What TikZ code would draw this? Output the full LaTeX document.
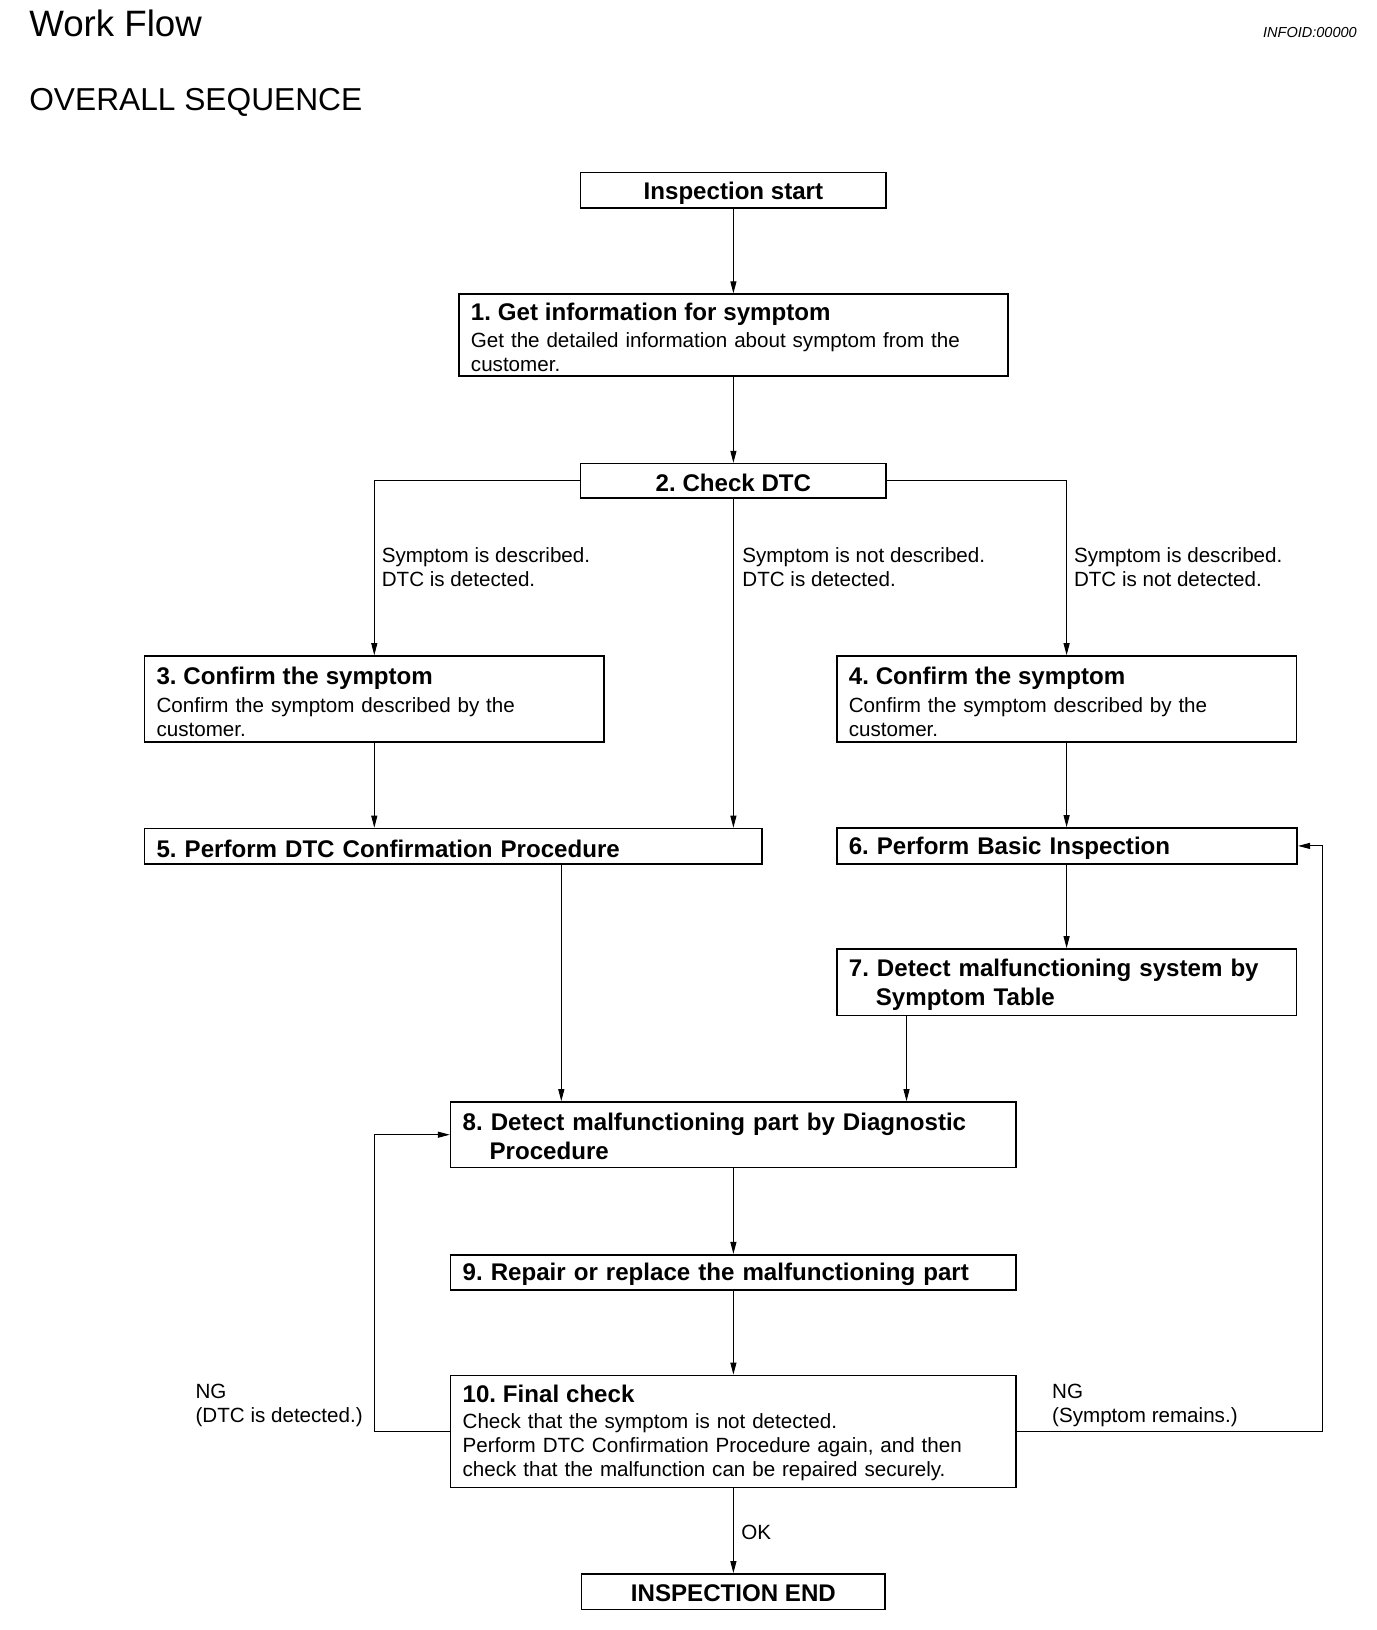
\documentclass[tikz,border=0pt]{standalone}
\usepackage{fontspec}
\setmainfont{Liberation Sans}
\usetikzlibrary{arrows.meta,calc}
\newcommand\ttl{\fontsize{24.1}{29}\selectfont\bfseries}
\newcommand\bdy{\fontsize{20.6}{24}\selectfont\mdseries}
\begin{document}
\frenchspacing
\begin{tikzpicture}[x=1pt,y=-1pt,
  frame/.style={draw, line width=1.6pt, rectangle, inner sep=0pt},
  btxt/.style={inner sep=0pt, align=left, font=\bdy},
  ctxt/.style={inner sep=0pt, align=center, font=\ttl},
  arr/.style={line width=1pt, -{Triangle[length=12pt,width=6pt]}},
  lbl/.style={anchor=west, inner sep=0pt, align=left, font=\bdy}]
\useasboundingbox[fill=white] (0,0) rectangle (1376,1630);

% headings
\node[anchor=west, inner sep=0pt, font=\fontsize{36.7}{40}\selectfont] (hwf) at (29.1,23.4) {Work Flow};
\node[anchor=west, inner sep=0pt, font=\fontsize{14.5}{16}\selectfont\itshape] (hid) at (1263,32.2) {INFOID:00000};
\node[anchor=west, inner sep=0pt, font=\fontsize{31.7}{36}\selectfont] (hos) at (29.1,102.5) {OVERALL SEQUENCE};

% box frames
\node[frame, minimum width=305.6pt, minimum height=35.4pt] (st) at (733.4,190.2) {};
\node[frame, minimum width=548.9pt, minimum height=82.1pt] (b1) at (733.4,335.2) {};
\node[frame, minimum width=305.6pt, minimum height=34.3pt] (b2) at (733.4,480.8) {};
\node[frame, minimum width=459.5pt, minimum height=86.2pt] (b3) at (374.3,699.1) {};
\node[frame, minimum width=459.5pt, minimum height=86.2pt] (b4) at (1066.6,699.1) {};
\node[frame, minimum width=617.5pt, minimum height=35.4pt] (b5) at (453.3,846.2) {};
\node[frame, minimum width=460.5pt, minimum height=35.9pt] (b6) at (1067.0,845.9) {};
\node[frame, minimum width=459.5pt, minimum height=66.6pt] (b7) at (1066.6,982.3) {};
\node[frame, minimum width=565.5pt, minimum height=65.5pt] (b8) at (733.4,1134.7) {};
\node[frame, minimum width=565.5pt, minimum height=35.4pt] (b9) at (733.4,1272.4) {};
\node[frame, minimum width=565.5pt, minimum height=112.2pt] (b10) at (733.4,1431.5) {};
\node[frame, minimum width=303.5pt, minimum height=35.4pt] (en) at (733.4,1591.6) {};

% box texts
\node[ctxt] (stt) at ([yshift=-2.6pt]st.center) {Inspection start};
\node[btxt, text width=524.9pt] (b1t) at ([yshift=-2.2pt]b1.center)
  {{\ttl 1. Get information for symptom}\\[2.5pt]Get the detailed information about symptom from the\\customer.};
\node[ctxt] (b2t) at ([yshift=-1.8pt]b2.center) {2. Check DTC};
\node[btxt, text width=435.5pt] (b3t) at ([yshift=-2.8pt]b3.center)
  {{\ttl 3. Confirm the symptom}\\[3.5pt]Confirm the symptom described by the\\customer.};
\node[btxt, text width=435.5pt] (b4t) at ([yshift=-2.8pt]b4.center)
  {{\ttl 4. Confirm the symptom}\\[3.5pt]Confirm the symptom described by the\\customer.};
\node[btxt, font=\ttl, text width=593.5pt] (b5t) at ([yshift=-2.4pt]b5.center)
  {5. Perform DTC Confirmation Procedure};
\node[btxt, font=\ttl, text width=436.5pt] (b6t) at ([yshift=-2.8pt]b6.center)
  {6. Perform Basic Inspection};
\node[btxt, font=\ttl, text width=435.5pt] (b7t) at ([yshift=-2.8pt]b7.center)
  {7. Detect malfunctioning system by\\\hspace*{27pt}Symptom Table};
\node[btxt, font=\ttl, text width=541.5pt] (b8t) at ([yshift=-1.6pt]b8.center)
  {8. Detect malfunctioning part by Diagnostic\\\hspace*{27pt}Procedure};
\node[btxt, font=\ttl, text width=541.5pt] (b9t) at ([yshift=-2.2pt]b9.center)
  {9. Repair or replace the malfunctioning part};
\node[btxt, text width=541.5pt] (b10t) at ([yshift=-1pt]b10.center)
  {{\ttl 10. Final check}\\[2pt]Check that the symptom is not detected.\\Perform DTC Confirmation Procedure again, and then\\check that the malfunction can be repaired securely.};
\node[ctxt] (ent) at ([yshift=-1.2pt]en.center) {INSPECTION END};

% helper coordinates
\coordinate (x58) at (561.3,0);
\coordinate (x78) at (906.5,0);
\coordinate (xl) at (374.3,0);
\coordinate (xr) at (1322.4,0);

% connectors
\draw[arr] (st) -- (b1);
\draw[arr] (b1) -- (b2);
\draw[arr] (b2.west) -| (b3.north);
\draw[arr] (b2.east) -| (b4.north);
\draw[arr] (b2.south) -- (b2.south |- b5.north);
\draw[arr] (b3.south) -- (b3.south |- b5.north);
\draw[arr] (b4.south) -- (b4.south |- b6.north);
\draw[arr] (b6.south -| b4.south) -- (b7.north -| b4.south);
\draw[arr] (b5.south -| x58) -- (b8.north -| x58);
\draw[arr] (b7.south -| x78) -- (b8.north -| x78);
\draw[arr] (b8) -- (b9);
\draw[arr] (b9) -- (b10);
\draw[arr] (b10) -- (en);
\draw[arr] (b10.west) -- (b10.west -| xl) |- (b8.west);
\draw[arr] (b10.east) -- (b10.east -| xr) |- (b6.east);

% labels
\node[lbl] (l1) at (381.6,567) {Symptom is described.\\DTC is detected.};
\node[lbl] (l2) at (742.2,567) {Symptom is not described.\\DTC is detected.};
\node[lbl] (l3) at (1073.8,567) {Symptom is described.\\DTC is not detected.};
\node[lbl] (l4) at (195.4,1405) {NG\\(DTC is detected.)};
\node[lbl] (l5) at (1052.0,1405) {NG\\(Symptom remains.)};
\node[lbl] (l6) at (741.2,1532) {OK};
\end{tikzpicture}
\end{document}
